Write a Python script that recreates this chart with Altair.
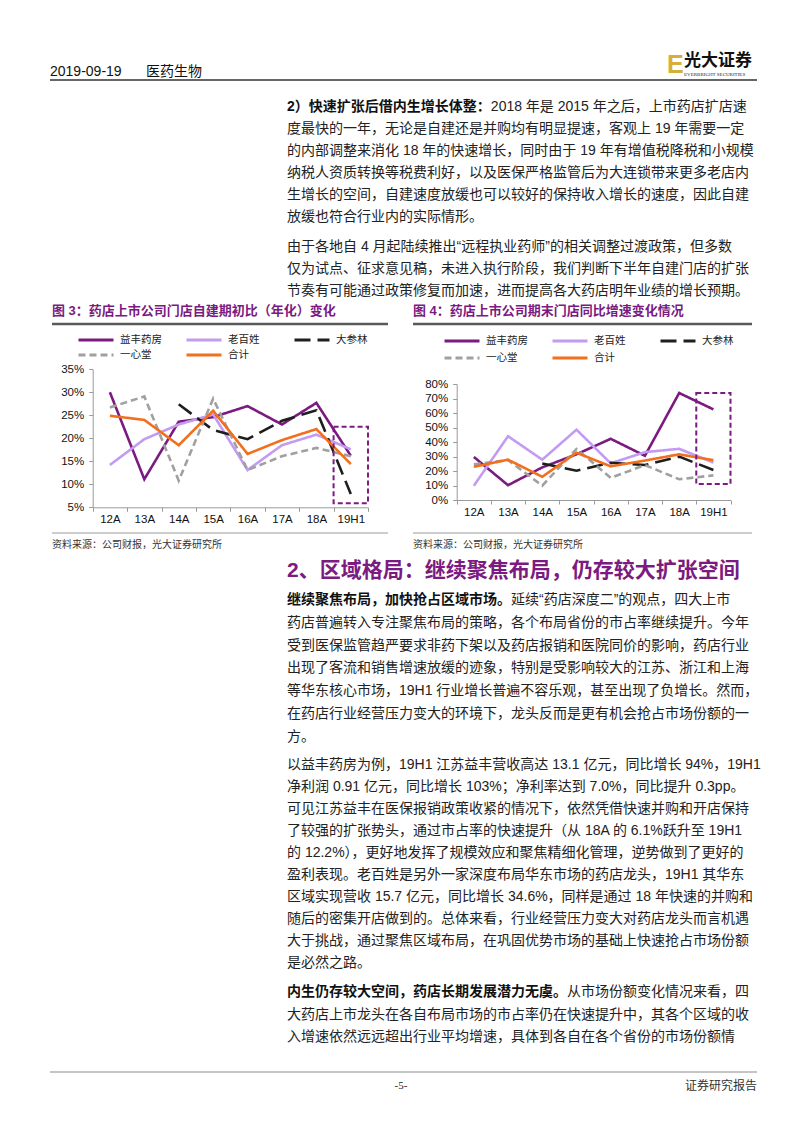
import altair as alt
import pandas as pd

# ---------------- data ----------------
cats = ["12A", "13A", "14A", "15A", "16A", "17A", "18A", "19H1"]
series = ["益丰药房", "老百姓", "大参林", "一心堂", "合计"]
colors = ["#7B1A80", "#C39BF0", "#1E1E1E", "#A0A0A0", "#F26F1D"]
dashes = [[1, 0], [1, 0], [16, 7], [7, 4], [1, 0]]

# Figure 3: store self-build ratio (annualised), %
f3_yifeng = [30.0, 11.1, 23.6, 24.6, 27.0, 23.0, 27.7, 16.2]
f3_laobaixing = [14.2, 19.8, 23.0, 25.2, 13.1, 18.5, 20.8, 17.6]
f3_dashenlin = [None, None, 27.4, 21.8, 19.8, 23.8, 26.1, 7.9]
f3_yixintang = [26.7, 29.1, 10.8, 28.6, 13.1, 16.1, 17.9, 16.1]
f3_total = [24.9, 24.0, 18.5, 26.0, 16.6, 19.6, 22.0, 14.4]

# Figure 4: year-end store count YoY growth, %
f4_yifeng = [29.7, 10.2, 22.5, 31.5, 42.2, 30.5, 73.8, 62.5]
f4_laobaixing = [9.8, 44.0, 27.8, 48.5, 25.3, 33.0, 35.3, 25.8]
f4_dashenlin = [None, None, 25.2, 20.2, 25.7, 24.1, 29.9, 20.7]
f4_yixintang = [24.6, 27.5, 9.9, 35.2, 15.3, 24.1, 14.3, 17.0]
f4_total = [22.9, 27.8, 16.0, 32.6, 23.2, 27.2, 31.5, 27.5]

f3_ticks = [5, 10, 15, 20, 25, 30, 35]
f4_ticks = [0, 10, 20, 30, 40, 50, 60, 70, 80]
highlight_cat = "19H1"
f3_highlight = [5.9, 22.5]
f4_highlight = [11.0, 73.8]

# ---------------- page text ----------------
header_date = "2019-09-19"
header_sector = "医药生物"
logo_cn = "光大证券"
logo_en = "EVERBRIGHT SECURITIES"

p1_bold = "2）快速扩张后借内生增长体整："
p1_first = "2018 年是 2015 年之后，上市药店扩店速"
p1_rest = [
    "度最快的一年，无论是自建还是并购均有明显提速，客观上 19 年需要一定",
    "的内部调整来消化 18 年的快速增长，同时由于 19 年有增值税降税和小规模",
    "纳税人资质转换等税费利好，以及医保严格监管后为大连锁带来更多老店内",
    "生增长的空间，自建速度放缓也可以较好的保持收入增长的速度，因此自建",
    "放缓也符合行业内的实际情形。",
]
p2 = [
    "由于各地自 4 月起陆续推出“远程执业药师”的相关调整过渡政策，但多数",
    "仅为试点、征求意见稿，未进入执行阶段，我们判断下半年自建门店的扩张",
    "节奏有可能通过政策修复而加速，进而提高各大药店明年业绩的增长预期。",
]
cap3 = "图 3：药店上市公司门店自建期初比（年化）变化"
cap4 = "图 4：药店上市公司期末门店同比增速变化情况"
source = "资料来源：公司财报，光大证券研究所"
heading = "2、区域格局：继续聚焦布局，仍存较大扩张空间"
p3_bold = "继续聚焦布局，加快抢占区域市场。"
p3_first = "延续“药店深度二”的观点，四大上市"
p3_rest = [
    "药店普遍转入专注聚焦布局的策略，各个布局省份的市占率继续提升。今年",
    "受到医保监管趋严要求非药下架以及药店报销和医院同价的影响，药店行业",
    "出现了客流和销售增速放缓的迹象，特别是受影响较大的江苏、浙江和上海",
    "等华东核心市场，19H1 行业增长普遍不容乐观，甚至出现了负增长。然而，",
    "在药店行业经营压力变大的环境下，龙头反而是更有机会抢占市场份额的一",
    "方。",
]
p4 = [
    "以益丰药房为例，19H1 江苏益丰营收高达 13.1 亿元，同比增长 94%，19H1",
    "净利润 0.91 亿元，同比增长 103%；净利率达到 7.0%，同比提升 0.3pp。",
    "可见江苏益丰在医保报销政策收紧的情况下，依然凭借快速并购和开店保持",
    "了较强的扩张势头，通过市占率的快速提升（从 18A 的 6.1%跃升至 19H1",
    "的 12.2%），更好地发挥了规模效应和聚焦精细化管理，逆势做到了更好的",
    "盈利表现。老百姓是另外一家深度布局华东市场的药店龙头，19H1 其华东",
    "区域实现营收 15.7 亿元，同比增长 34.6%，同样是通过 18 年快速的并购和",
    "随后的密集开店做到的。总体来看，行业经营压力变大对药店龙头而言机遇",
    "大于挑战，通过聚焦区域布局，在巩固优势市场的基础上快速抢占市场份额",
    "是必然之路。",
]
p5_bold = "内生仍存较大空间，药店长期发展潜力无虞。"
p5_first = "从市场份额变化情况来看，四"
p5_rest = [
    "大药店上市龙头在各自布局市场的市占率仍在快速提升中，其各个区域的收",
    "入增速依然远远超出行业平均增速，具体到各自在各个省份的市场份额情",
]
footer_page = "-5-"
footer_right = "证券研究报告"

# ---------------- layout (page pixels) ----------------
OFF = 8
W, H = 786, 1117
PURPLE = "#7B1A80"
BODY_FONT = "Liberation Sans, Noto Sans CJK SC, sans-serif"
CJK_FONT = "Noto Sans CJK SC, sans-serif"
FS = 14
TX = 287


def est_w(s, fs):
    w = 0.0
    for ch in s:
        if ch == " ":
            w += 0.28 * fs
        elif ord(ch) > 0x2000:
            w += fs
        else:
            w += 0.56 * fs
    return w


def P(v):
    return v - OFF


normal_rows, bold_rows = [], []


def add_para(y0, step, bold, first, rest):
    y = y0
    if bold:
        bold_rows.append(dict(x=P(TX), y=P(y), t=bold))
        normal_rows.append(dict(x=P(TX) + est_w(bold, FS), y=P(y), t=first))
    else:
        normal_rows.append(dict(x=P(TX), y=P(y), t=first))
    for i, line in enumerate(rest):
        normal_rows.append(dict(x=P(TX), y=P(y + step * (i + 1)), t=line))


add_para(107, 22, p1_bold, p1_first, p1_rest)
add_para(247, 22, None, p2[0], p2[1:])
add_para(600, 22.8, p3_bold, p3_first, p3_rest)
add_para(765, 22.0, None, p4[0], p4[1:])
add_para(992, 22.6, p5_bold, p5_first, p5_rest)


def xq(f="x"):
    return alt.X(f"{f}:Q", scale=None, axis=None)


def yq(f="y"):
    return alt.Y(f"{f}:Q", scale=None, axis=None)


def text_layer(rows, **mk):
    df = pd.DataFrame(rows)
    base = dict(align="left", baseline="middle", font=BODY_FONT, fontSize=FS, color="#222222")
    base.update(mk)
    return alt.Chart(df).mark_text(**base).encode(x=xq(), y=yq(), text="t:N")


layers = []
layers.append(text_layer(normal_rows))
layers.append(text_layer(bold_rows, fontWeight="bold", color="#111111"))
layers.append(text_layer([dict(x=P(TX), y=P(571), t=heading)], fontSize=21, fontWeight="bold", color=PURPLE))
layers.append(text_layer([dict(x=P(52), y=P(311), t=cap3), dict(x=P(413), y=P(311), t=cap4)],
                         fontSize=13, fontWeight="bold", color=PURPLE))
layers.append(text_layer([dict(x=P(52), y=P(545), t=source), dict(x=P(413), y=P(545), t=source)],
                         fontSize=10, color="#333333"))
layers.append(text_layer([dict(x=P(50), y=P(72), t=header_date)], fontSize=14,
                         font="Liberation Sans Narrow, Liberation Sans, sans-serif", color="#111111"))
layers.append(text_layer([dict(x=P(146), y=P(72), t=header_sector)], fontSize=14, font=CJK_FONT, color="#111111"))
layers.append(text_layer([dict(x=P(667), y=P(65), t="E")], fontSize=25, fontWeight="bold",
                         font="Liberation Sans Narrow, Liberation Sans, sans-serif", color="#D6AE3C"))
layers.append(text_layer([dict(x=P(684), y=P(61), t=logo_cn)], fontSize=17, fontWeight="bold", font=CJK_FONT,
                         color="#111111"))
layers.append(text_layer([dict(x=P(684), y=P(74), t=logo_en)], fontSize=5,
                         font="Liberation Serif, serif", color="#222222"))
layers.append(text_layer([dict(x=P(401), y=P(1086), t=footer_page)], fontSize=11, align="center",
                         font="Liberation Serif, serif", color="#222222"))
layers.append(text_layer([dict(x=P(757), y=P(1086), t=footer_right)], fontSize=12, align="right",
                         font=CJK_FONT, color="#333333"))

rules = pd.DataFrame([
    dict(x=P(50), x2=P(757), y=P(80), c="#333333", w=1.5),
    dict(x=P(52), x2=P(388), y=P(324), c="#595959", w=2.5),
    dict(x=P(413), x2=P(752), y=P(324), c="#595959", w=2.5),
    dict(x=P(52), x2=P(388), y=P(533), c="#9A9A9A", w=1),
    dict(x=P(413), x2=P(752), y=P(533), c="#9A9A9A", w=1),
    dict(x=P(50), x2=P(757), y=P(1072), c="#8A8A8A", w=1.2),
])
layers.append(alt.Chart(rules).mark_rule().encode(
    x=xq(), x2="x2:Q", y=yq(),
    color=alt.Color("c:N", scale=None),
    strokeWidth=alt.StrokeWidth("w:Q", scale=None)))


# ---------------- charts ----------------
def make_chart(vals_list, field, ydom, ticks, xr, yr, legend_xy, hl):
    rows = []
    for s, vals in zip(series, vals_list):
        for c, v in zip(cats, vals):
            rows.append({"cat": c, field: s, "val": v})
    df = pd.DataFrame(rows)
    xr_c = [P(xr[0]), P(xr[1])]
    yr_c = [P(yr[0]), P(yr[1])]  # bottom, top
    xaxis = alt.Axis(orient="bottom", offset=-(H - yr_c[0]), title=None, labelAngle=0, tickBand="extent",
                     domainColor="#9A9A9A", tickColor="#9A9A9A", tickSize=4, labelPadding=2,
                     labelFont="Liberation Sans, sans-serif", labelFontSize=11.5, labelColor="#111111",
                     grid=False)
    yaxis = alt.Axis(orient="left", offset=-xr_c[0], title=None, values=ticks,
                     labelExpr="datum.value + '%'", domainColor="#9A9A9A", tickColor="#9A9A9A", tickSize=4,
                     labelPadding=5, labelFont="Liberation Sans, sans-serif", labelFontSize=11.5,
                     labelColor="#111111", grid=False)
    xs = alt.Scale(type="band", domain=cats, range=xr_c, paddingInner=0, paddingOuter=0)
    ys = alt.Scale(domain=ydom, range=yr_c, nice=False, zero=False)
    leg = alt.Legend(title=None, orient="none", legendX=P(legend_xy[0]), legendY=P(legend_xy[1]),
                     direction="horizontal", columns=3, symbolType="stroke", symbolSize=1225,
                     symbolStrokeWidth=3, clipHeight=12, rowPadding=legend_xy[2], columnPadding=23,
                     gridAlign="all", labelFont=CJK_FONT, labelFontSize=10.5, labelColor="#222222",
                     labelOffset=5, padding=0)
    line = alt.Chart(df).mark_line(strokeWidth=2.6).encode(
        x=alt.X("cat:N", sort=cats, scale=xs, axis=xaxis, bandPosition=0.5),
        y=alt.Y("val:Q", scale=ys, axis=yaxis),
        color=alt.Color(f"{field}:N", sort=series, scale=alt.Scale(domain=series, range=colors), legend=leg),
        strokeDash=alt.StrokeDash(f"{field}:N", sort=series, scale=alt.Scale(domain=series, range=dashes),
                                  legend=leg),
    )
    hdf = pd.DataFrame([{"cat": highlight_cat, "lo": hl[0], "hi": hl[1]}])
    rect = alt.Chart(hdf).mark_rect(filled=False, stroke=PURPLE, strokeWidth=2, strokeDash=[5, 3]).encode(
        x=alt.X("cat:N", sort=cats, scale=xs, axis=xaxis),
        y=alt.Y("lo:Q", scale=ys, axis=yaxis),
        y2="hi:Q",
    )
    return alt.layer(line, rect)


c3 = make_chart([f3_yifeng, f3_laobaixing, f3_dashenlin, f3_yixintang, f3_total], "s3",
                [5, 35], f3_ticks, (92.7, 368), (507.3, 369.3), (77, 334, 3), f3_highlight)
c4 = make_chart([f4_yifeng, f4_laobaixing, f4_dashenlin, f4_yixintang, f4_total], "s4",
                [0, 80], f4_ticks, (456.7, 730.5), (500, 384), (443, 335, 5), f4_highlight)

chart = alt.layer(*layers, c3, c4).resolve_scale(
    x="independent", y="independent", color="independent", strokeDash="independent"
).properties(
    width=W, height=H, padding=0, autosize=alt.AutoSizeParams(type="none"), background="white"
).configure_view(stroke=None)

chart.save("out.html", embed_options={"renderer": "svg", "actions": False})
